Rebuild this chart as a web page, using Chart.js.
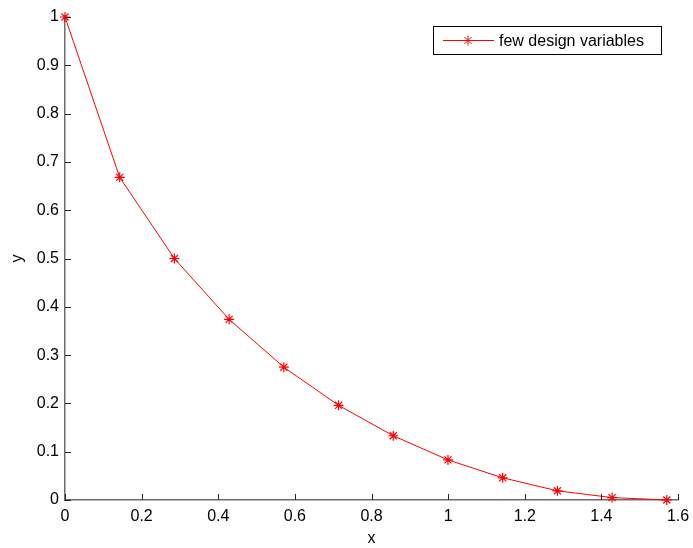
<!DOCTYPE html>
<html>
<head>
<meta charset="utf-8">
<script src="https://cdn.jsdelivr.net/npm/chart.js@4"></script>
<style>
  html, body { margin: 0; padding: 0; background: #fff; }
  #wrap { width: 693px; height: 548px; }
</style>
</head>
<body>
<div id="wrap"><canvas id="chart" width="693" height="548"></canvas></div>
<script>
// data
const xValues = [0, 0.1428, 0.2856, 0.4284, 0.5712, 0.714, 0.8568, 0.9996, 1.1424, 1.2852, 1.428, 1.5708];
const yValues = [1, 0.668, 0.5, 0.374, 0.275, 0.196, 0.133, 0.083, 0.046, 0.019, 0.005, 0];
const seriesName = 'few design variables';
const xTicks = [0, 0.2, 0.4, 0.6, 0.8, 1, 1.2, 1.4, 1.6];
const yTicks = [0, 0.1, 0.2, 0.3, 0.4, 0.5, 0.6, 0.7, 0.8, 0.9, 1];

const FONT = 'Liberation Sans, Arial, Helvetica, sans-serif';
const fmt = v => String(+(+v).toFixed(1));

// ticks pointing into the plot, like matlab
const innerTicks = {
    id: 'innerTicks',
    afterDraw(chart) {
        const ctx = chart.ctx;
        const x = chart.scales.x, y = chart.scales.y;
        const a = chart.chartArea;
        ctx.save();
        ctx.strokeStyle = '#262626';
        ctx.lineWidth = 1;
        ctx.beginPath();
        xTicks.forEach(v => {
            const px = Math.round(x.getPixelForValue(v)) + 0.5;
            ctx.moveTo(px, a.bottom);
            ctx.lineTo(px, a.bottom - 6);
        });
        yTicks.forEach(v => {
            const py = Math.round(y.getPixelForValue(v)) + 0.5;
            ctx.moveTo(a.left, py);
            ctx.lineTo(a.left + 6, py);
        });
        ctx.stroke();
        ctx.restore();
    }
};

// legend box with line + marker sample
const boxLegend = {
    id: 'boxLegend',
    afterDraw(chart) {
        const ctx = chart.ctx;
        const ds = chart.data.datasets[0];
        const bx = 433.5, by = 26.5, bw = 228, bh = 28;
        ctx.save();
        ctx.fillStyle = '#fff';
        ctx.fillRect(bx, by, bw, bh);
        ctx.strokeStyle = '#000';
        ctx.lineWidth = 1;
        ctx.strokeRect(bx, by, bw, bh);
        const cy = by + bh / 2;
        ctx.strokeStyle = ds.borderColor;
        ctx.beginPath();
        ctx.moveTo(443, cy);
        ctx.lineTo(494, cy);
        ctx.stroke();
        Chart.helpers.drawPoint(ctx, { pointStyle: 'star', radius: 5, borderWidth: 1.2, rotation: 0 }, 468, cy);
        ctx.fillStyle = '#000';
        ctx.font = '16px ' + FONT;
        ctx.textBaseline = 'middle';
        ctx.fillText(ds.label, 499, cy + 1);
        ctx.restore();
    }
};

new Chart(document.getElementById('chart'), {
    type: 'line',
    data: {
        datasets: [{
            label: seriesName,
            data: xValues.map((x, i) => ({ x: x, y: yValues[i] })),
            borderColor: '#ff0000',
            backgroundColor: '#ff0000',
            borderWidth: 1,
            tension: 0,
            pointStyle: 'star',
            pointRadius: 5,
            pointBorderWidth: 1.2,
            pointBorderColor: '#ff0000',
            clip: false
        }]
    },
    options: {
        responsive: false,
        animation: false,
        layout: { padding: { top: 17, right: 15, left: 8, bottom: 0 } },
        plugins: { legend: { display: false }, tooltip: { enabled: false } },
        scales: {
            x: {
                type: 'linear',
                min: 0, max: 1.6,
                afterBuildTicks: s => { s.ticks = xTicks.map(v => ({ value: v })); },
                afterFit: s => { s.height = 48; s.paddingRight = 0; s.paddingLeft = 0; },
                ticks: { color: '#000', font: { size: 16, family: FONT }, padding: 7, maxRotation: 0, callback: fmt },
                grid: { drawOnChartArea: false, drawTicks: false },
                border: { color: '#6e6e6e', width: 1.5 },
                title: { display: true, text: 'x', color: '#000', font: { size: 16, family: FONT }, padding: { top: 0, bottom: 0 } }
            },
            y: {
                type: 'linear',
                min: 0, max: 1,
                afterBuildTicks: s => { s.ticks = yTicks.map(v => ({ value: v })); },
                afterFit: s => { s.width = 57; s.paddingTop = 0; s.paddingBottom = 0; },
                ticks: { color: '#000', font: { size: 16, family: FONT }, padding: 6, callback: fmt },
                grid: { drawOnChartArea: false, drawTicks: false },
                border: { color: '#6e6e6e', width: 1.5 },
                title: { display: true, text: 'y', color: '#000', font: { size: 16, family: FONT }, padding: { top: 0, bottom: 0 } }
            }
        }
    },
    plugins: [innerTicks, boxLegend]
});
</script>
</body>
</html>
